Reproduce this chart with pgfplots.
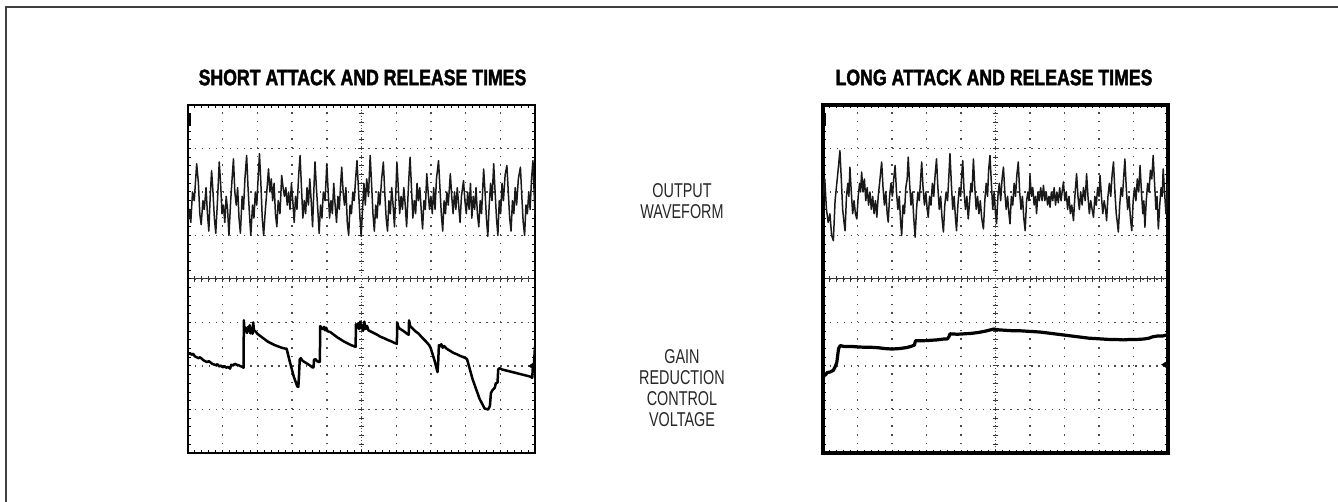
\documentclass[border=0pt]{standalone}
\usepackage{fontspec}
\setmainfont{Liberation Sans}
\newfontfamily\titlefont[FakeStretch=0.79, FakeBold=1.8]{Liberation Sans}
\newfontfamily\labelfont[FakeStretch=0.72]{Liberation Sans}
\usepackage{pgfplots}
\pgfplotsset{compat=1.18}

% scope screen: 10 x 8 divisions, grid dotted at 1/5 division
\pgfplotsset{
  scopebox/.style={
    scale only axis, anchor=south west,
    xmin=0, xmax=10, ymin=-4, ymax=4,
    xtick={0,...,10}, ytick={-4,...,4},
    xticklabels={}, yticklabels={},
    minor x tick num=4, minor y tick num=4,
    tick align=inside, major tick length=1.6pt, minor tick length=1.6pt,
    tick style={black, line width=0.5pt},
    grid=major,
    x grid style={black!70, line width=0.7pt, dash pattern=on 0.7pt off 3.65pt},
    y grid style={black!70, line width=0.7pt, dash pattern=on 0.7pt off 2.77pt},
    clip=true,
  },
  scopecenter/.style={
    scale only axis, anchor=south west,
    xmin=-5, xmax=5, ymin=-4, ymax=4,
    axis lines=center, axis line style={-},
    x axis line style={black!80, line width=0.5pt},
    y axis line style={black!70, line width=0.5pt, dash pattern=on 0.6pt off 0.9pt},
    xtick={-5,...,5}, ytick={-4,...,4},
    xticklabels={}, yticklabels={},
    minor x tick num=4, minor y tick num=4,
    tick align=center, major tick length=3pt, minor tick length=2.6pt,
    tick style={black!80, line width=0.5pt},
  },
  trace/.style={black!90, line width=0.75pt, line join=round},
  slow/.style={black, line width=1.25pt, line join=round},
}

\begin{document}
\begin{tikzpicture}
\useasboundingbox (0,0) rectangle (669pt,251pt);
\draw[line width=1pt, black!75] (2.85pt,-5pt) -- (2.85pt,247.5pt) -- (680pt,247.5pt);

% titles
\node[font=\titlefont\bfseries\fontsize{11.2}{12}\selectfont] at (181.25pt,212.25pt) {SHORT ATTACK AND RELEASE TIMES};
\node[font=\titlefont\bfseries\fontsize{11.2}{12}\selectfont] at (497pt,212.25pt) {LONG ATTACK AND RELEASE TIMES};

% middle labels
\begin{scope}[every node/.style={font=\labelfont\fontsize{10}{11}\selectfont, black!85}]
\node at (341pt,155.8pt) {OUTPUT};
\node at (341pt,145.2pt) {WAVEFORM};
\node at (341pt,72.6pt) {GAIN};
\node at (341pt,62.1pt) {REDUCTION};
\node at (341pt,51.5pt) {CONTROL};
\node at (341pt,41pt) {VOLTAGE};
\end{scope}

% ---------------- left screen ----------------
\begin{axis}[scopecenter, at={(94pt,24.5pt)}, width=173.5pt, height=174pt]
\end{axis}
\begin{axis}[scopebox, at={(94pt,24.5pt)}, width=173.5pt, height=174pt,
  axis line style={line width=1.4pt}]
\addplot[trace] coordinates {
(0,1.35)(0.04,1.6)(0.08,1.3)(0.13,2.0)(0.18,1.8)(0.25,2.65)(0.30,2.2)(0.34,1.5)(0.38,1.25)(0.43,1.8)(0.47,1.6)(0.52,2.1)(0.56,1.5)(0.60,1.1)(0.64,1.9)(0.68,2.49)(0.72,2.0)(0.76,1.4)(0.80,1.05)(0.85,1.8)(0.90,2.69)(0.94,2.2)(0.98,1.5)(1.02,1.7)(1.06,1.3)(1.10,1.9)(1.14,1.6)(1.18,1.0)(1.23,1.8)(1.27,2.3)(1.31,2.76)(1.35,2.0)(1.39,1.7)(1.43,2.1)(1.47,1.4)(1.51,1.05)(1.56,1.9)(1.60,1.6)(1.64,2.3)(1.69,2.84)(1.73,2.1)(1.77,1.5)(1.81,1.0)(1.86,1.7)(1.90,1.4)(1.94,2.0)(1.98,1.7)(2.02,2.3)(2.06,2.88)(2.10,2.2)(2.14,1.4)(2.18,1.0)(2.23,1.6)(2.27,2.0)(2.32,2.53)(2.36,2.0)(2.40,2.3)(2.44,1.8)(2.48,2.2)(2.52,1.5)(2.56,1.2)(2.60,1.8)(2.65,1.5)(2.70,2.38)(2.74,2.1)(2.78,1.9)(2.82,2.1)(2.86,1.7)(2.90,2.0)(2.94,1.6)(2.98,2.2)(3.02,1.8)(3.06,1.3)(3.10,1.9)(3.14,1.6)(3.19,2.4)(3.23,2.84)(3.27,2.1)(3.31,1.4)(3.35,1.8)(3.39,1.5)(3.43,2.1)(3.47,1.7)(3.51,2.3)(3.55,1.8)(3.59,1.2)(3.62,1.9)(3.66,2.69)(3.70,2.1)(3.74,1.6)(3.78,1.05)(3.82,1.7)(3.86,1.4)(3.90,2.0)(3.95,1.8)(4.00,2.65)(4.04,2.0)(4.08,1.4)(4.12,1.8)(4.16,1.5)(4.20,2.2)(4.24,1.7)(4.28,1.3)(4.32,1.9)(4.36,1.6)(4.40,2.2)(4.43,2.57)(4.47,2.0)(4.51,1.7)(4.55,2.1)(4.59,1.3)(4.63,1.0)(4.67,1.7)(4.71,1.5)(4.75,2.0)(4.79,1.8)(4.83,2.3)(4.87,2.72)(4.91,2.1)(4.95,1.5)(4.99,0.98)(5.03,1.6)(5.07,2.2)(5.11,1.7)(5.15,2.3)(5.20,1.9)(5.25,2.84)(5.29,2.2)(5.33,1.5)(5.37,1.1)(5.41,1.7)(5.45,1.4)(5.49,2.0)(5.53,1.7)(5.58,2.3)(5.63,2.69)(5.67,2.0)(5.71,1.4)(5.75,1.1)(5.79,1.8)(5.83,1.5)(5.87,2.1)(5.91,1.7)(5.95,1.2)(5.99,2.0)(6.02,2.69)(6.06,2.1)(6.10,1.5)(6.14,1.9)(6.18,1.6)(6.22,2.1)(6.26,1.7)(6.30,1.2)(6.34,1.9)(6.37,2.4)(6.40,2.8)(6.44,2.1)(6.48,1.4)(6.52,1.8)(6.56,1.5)(6.60,2.2)(6.64,1.8)(6.68,2.1)(6.72,1.6)(6.76,1.15)(6.80,1.8)(6.84,1.6)(6.88,2.42)(6.92,2.0)(6.96,1.6)(7.00,1.9)(7.04,1.5)(7.08,2.1)(7.12,1.6)(7.16,2.3)(7.22,2.72)(7.26,2.1)(7.30,1.5)(7.34,1.1)(7.38,1.8)(7.42,1.5)(7.46,2.0)(7.50,1.7)(7.56,2.42)(7.60,1.9)(7.64,1.5)(7.68,2.0)(7.72,1.6)(7.76,2.1)(7.80,1.7)(7.84,1.3)(7.88,1.9)(7.94,2.26)(7.98,1.8)(8.02,1.5)(8.06,2.0)(8.10,1.6)(8.14,2.2)(8.18,1.4)(8.22,1.9)(8.26,1.6)(8.30,2.1)(8.34,1.5)(8.38,1.2)(8.42,1.8)(8.46,1.5)(8.52,2.53)(8.56,2.0)(8.60,1.4)(8.64,0.98)(8.68,1.7)(8.72,2.2)(8.76,1.8)(8.81,2.65)(8.85,2.0)(8.89,1.4)(8.93,1.0)(8.97,1.8)(9.01,1.5)(9.05,2.2)(9.09,1.8)(9.14,2.4)(9.19,2.61)(9.23,2.0)(9.27,1.4)(9.31,1.1)(9.35,1.8)(9.39,1.5)(9.43,2.1)(9.47,1.7)(9.52,2.3)(9.58,2.57)(9.62,1.9)(9.66,1.3)(9.70,1.0)(9.74,1.7)(9.78,1.5)(9.82,2.0)(9.86,1.6)(9.90,2.3)(9.94,2.72)(9.97,2.1)(10,1.5)
};
\addplot[slow] coordinates {
(0,-1.74)(0.05,-1.70)(0.1,-1.74)(0.15,-1.72)(0.2,-1.78)(0.3,-1.82)(0.35,-1.80)(0.45,-1.87)(0.55,-1.91)(0.6,-1.89)(0.7,-1.95)(0.8,-1.98)(0.85,-1.96)(0.9,-2.01)(0.95,-1.99)(1.0,-2.03)(1.05,-2.00)(1.1,-2.04)(1.15,-2.02)(1.21,-2.06)(1.25,-1.97)(1.3,-1.99)(1.35,-1.95)(1.4,-1.97)(1.45,-1.98)(1.5,-2.00)(1.57,-2.02)(1.6,-2.04)
(1.61,-0.95)(1.63,-1.2)(1.66,-1.12)(1.70,-1.24)(1.73,-1.10)(1.76,-1.20)(1.78,-1.06)(1.80,-1.25)(1.83,-1.13)(1.86,-1.26)(1.88,-1.00)(1.90,-1.18)(1.95,-1.21)(2.0,-1.26)(2.1,-1.32)(2.2,-1.38)(2.3,-1.44)(2.4,-1.48)(2.5,-1.52)(2.6,-1.55)(2.7,-1.58)(2.8,-1.60)(2.84,-1.60)
(2.95,-1.95)(3.05,-2.25)(3.15,-2.47)(3.18,-2.48)(3.20,-2.20)(3.22,-1.85)(3.25,-1.82)(3.3,-1.88)(3.4,-1.93)(3.5,-1.98)(3.6,-2.04)(3.62,-2.02)
(3.63,-1.86)(3.67,-1.84)(3.72,-1.89)(3.78,-1.91)(3.80,-1.90)
(3.81,-1.08)(3.84,-1.12)(3.88,-1.15)(3.92,-1.10)(3.95,-1.18)(3.98,-1.12)(4.02,-1.20)(4.1,-1.22)(4.2,-1.28)(4.3,-1.34)(4.4,-1.39)(4.5,-1.44)(4.6,-1.48)(4.7,-1.52)(4.83,-1.56)
(4.84,-1.04)(4.87,-1.12)(4.90,-1.02)(4.93,-1.15)(4.96,-0.98)(4.99,-1.13)(5.02,-1.06)(5.05,-1.18)(5.08,-0.98)(5.12,-1.15)(5.16,-1.08)(5.20,-1.18)(5.25,-1.20)(5.35,-1.24)(5.45,-1.28)(5.55,-1.33)(5.65,-1.36)(5.75,-1.40)(5.85,-1.43)(5.95,-1.47)(6.02,-1.49)
(6.03,-1.00)(6.06,-1.10)(6.10,-1.14)(6.18,-1.18)(6.25,-1.22)(6.33,-1.27)(6.36,-1.28)
(6.37,-0.95)(6.40,-1.08)(6.45,-1.12)(6.55,-1.20)(6.65,-1.26)(6.75,-1.35)(6.85,-1.43)(6.95,-1.52)(6.99,-1.58)
(7.10,-1.86)(7.19,-2.14)(7.21,-1.92)(7.23,-1.52)(7.26,-1.55)(7.30,-1.50)(7.34,-1.58)(7.38,-1.54)(7.45,-1.60)(7.55,-1.65)(7.65,-1.70)(7.75,-1.73)(7.85,-1.77)(7.95,-1.80)(8.04,-1.84)
(8.2,-2.30)(8.4,-2.75)(8.55,-2.98)(8.65,-3.00)(8.70,-2.92)(8.73,-2.62)(8.78,-2.55)(8.84,-2.50)(8.87,-2.40)(8.92,-2.38)(8.94,-2.08)(8.98,-2.05)(9.05,-2.08)(9.15,-2.10)(9.25,-2.12)(9.35,-2.14)(9.45,-2.16)(9.55,-2.18)(9.65,-2.20)(9.75,-2.22)(9.85,-2.24)(9.92,-2.27)(9.94,-2.00)(9.97,-1.95)(10,-1.55)
};
\fill (axis cs:0,3.82) rectangle (axis cs:0.1,3.52);
\fill (axis cs:9.8,-2.0) -- (axis cs:10,-1.9) -- (axis cs:10,-2.1) -- cycle;
\end{axis}

% ---------------- right screen ----------------
\begin{axis}[scopecenter, at={(411.5pt,24.5pt)}, width=172.5pt, height=174pt]
\end{axis}
\begin{axis}[scopebox, at={(411.5pt,24.5pt)}, width=172.5pt, height=174pt,
  axis line style={line width=1.9pt}]
\addplot[trace] coordinates {
(0,1.9)(0.05,2.3)(0.10,1.6)(0.15,1.3)(0.20,1.5)(0.25,1.0)(0.30,0.88)(0.35,1.8)(0.40,2.2)(0.45,2.6)(0.49,2.95)(0.53,2.3)(0.57,1.6)(0.61,1.3)(0.64,1.11)(0.68,1.9)(0.72,2.2)(0.75,1.9)(0.78,2.57)(0.82,2.0)(0.86,1.5)(0.90,1.8)(0.94,1.5)(0.98,1.38)(1.02,1.9)(1.06,2.2)(1.09,2.0)(1.12,2.46)(1.16,2.0)(1.20,2.3)(1.24,1.8)(1.28,2.1)(1.32,1.7)(1.36,2.0)(1.40,1.6)(1.44,1.9)(1.48,1.5)(1.52,1.8)(1.56,1.42)(1.60,1.9)(1.64,2.2)(1.70,2.69)(1.74,2.1)(1.78,1.7)(1.82,2.0)(1.86,1.5)(1.89,1.31)(1.93,1.9)(1.97,2.2)(2.01,1.9)(2.05,2.3)(2.09,2.61)(2.13,2.0)(2.17,1.6)(2.21,1.9)(2.25,1.3)(2.28,1.0)(2.32,1.7)(2.36,1.5)(2.40,2.1)(2.44,2.3)(2.47,2.8)(2.51,2.2)(2.55,1.7)(2.59,2.0)(2.63,1.4)(2.67,0.96)(2.71,1.6)(2.75,2.0)(2.79,1.8)(2.83,2.3)(2.86,2.69)(2.90,2.1)(2.94,1.7)(2.98,2.0)(3.02,1.6)(3.05,1.42)(3.09,1.9)(3.13,1.7)(3.17,2.2)(3.21,1.9)(3.25,2.4)(3.29,2.76)(3.33,2.1)(3.37,1.6)(3.41,1.9)(3.45,1.4)(3.49,1.08)(3.53,1.7)(3.57,2.0)(3.61,1.8)(3.65,2.4)(3.68,2.88)(3.72,2.2)(3.76,1.6)(3.80,1.9)(3.84,1.4)(3.87,1.11)(3.91,1.7)(3.95,2.1)(3.99,1.9)(4.02,2.4)(4.05,2.72)(4.09,2.0)(4.13,1.6)(4.17,1.9)(4.21,1.38)(4.25,1.8)(4.29,2.2)(4.32,2.0)(4.36,2.76)(4.40,2.1)(4.44,1.6)(4.48,1.9)(4.52,1.5)(4.56,1.8)(4.60,1.4)(4.65,1.15)(4.69,1.8)(4.73,2.2)(4.77,1.9)(4.80,2.5)(4.84,2.84)(4.88,2.2)(4.92,1.6)(4.96,2.0)(5.00,1.5)(5.03,1.27)(5.07,1.9)(5.11,2.2)(5.15,1.8)(5.19,2.3)(5.23,2.57)(5.27,2.0)(5.31,1.6)(5.35,1.9)(5.39,1.5)(5.42,1.27)(5.46,1.9)(5.50,1.7)(5.54,2.2)(5.58,1.9)(5.62,2.4)(5.66,2.69)(5.70,2.0)(5.74,1.6)(5.78,1.9)(5.82,1.4)(5.86,1.11)(5.90,1.8)(5.94,2.0)(5.97,1.8)(6.00,2.38)(6.04,1.9)(6.08,2.1)(6.12,1.7)(6.16,1.9)(6.19,1.5)(6.23,2.0)(6.27,1.8)(6.31,2.1)(6.35,1.8)(6.39,2.15)(6.43,1.8)(6.47,2.0)(6.51,1.7)(6.55,1.9)(6.58,1.65)(6.62,2.0)(6.66,1.8)(6.70,2.1)(6.74,1.7)(6.78,2.0)(6.82,1.75)(6.86,2.1)(6.90,1.8)(6.93,2.0)(6.97,2.23)(7.01,1.8)(7.05,2.0)(7.09,1.6)(7.13,1.9)(7.17,1.5)(7.21,1.7)(7.26,1.34)(7.30,1.9)(7.35,2.42)(7.39,1.9)(7.43,1.6)(7.47,2.0)(7.51,1.7)(7.55,2.1)(7.60,1.8)(7.64,2.42)(7.68,1.9)(7.72,1.5)(7.76,1.8)(7.80,1.6)(7.84,1.42)(7.88,1.9)(7.92,1.7)(7.96,2.1)(8.00,1.9)(8.03,2.38)(8.07,1.9)(8.11,1.5)(8.15,1.8)(8.19,1.6)(8.22,1.34)(8.26,1.9)(8.30,2.2)(8.34,1.9)(8.38,2.4)(8.42,2.69)(8.46,2.0)(8.50,1.5)(8.53,1.3)(8.56,1.08)(8.60,1.7)(8.64,2.1)(8.68,1.9)(8.72,2.4)(8.75,2.76)(8.79,2.1)(8.83,1.6)(8.87,1.9)(8.91,1.4)(8.95,1.11)(8.99,1.8)(9.03,2.1)(9.07,1.8)(9.11,2.3)(9.15,2.0)(9.19,2.61)(9.23,2.0)(9.27,1.5)(9.30,1.8)(9.33,1.19)(9.37,1.8)(9.41,2.2)(9.45,2.0)(9.49,2.5)(9.53,2.3)(9.57,2.84)(9.61,2.2)(9.65,1.6)(9.68,1.9)(9.72,1.15)(9.76,1.7)(9.80,2.1)(9.83,1.9)(9.86,2.53)(9.90,2.0)(9.94,1.5)(9.97,1.8)(10,2.2)
};
\addplot[slow, line width=1.6pt] coordinates {
(0,-2.3)(0.03,-2.22)(0.08,-2.2)(0.12,-2.15)(0.2,-2.14)(0.3,-2.10)(0.35,-2.02)(0.4,-1.92)(0.45,-1.6)(0.5,-1.53)(0.6,-1.55)(0.8,-1.55)(1.0,-1.56)(1.2,-1.57)(1.4,-1.57)(1.6,-1.58)(1.8,-1.60)(2.0,-1.61)(2.2,-1.60)(2.4,-1.58)(2.55,-1.55)(2.65,-1.52)(2.68,-1.42)(2.9,-1.42)(3.1,-1.41)(3.3,-1.40)(3.5,-1.38)(3.60,-1.38)(3.65,-1.33)(3.68,-1.26)(3.9,-1.27)(4.1,-1.26)(4.3,-1.25)(4.5,-1.23)(4.7,-1.20)(4.85,-1.17)(4.95,-1.15)(5.1,-1.17)(5.3,-1.18)(5.5,-1.19)(5.7,-1.19)(5.9,-1.20)(6.1,-1.21)(6.3,-1.22)(6.5,-1.24)(6.7,-1.26)(6.9,-1.28)(7.1,-1.30)(7.3,-1.32)(7.5,-1.34)(7.7,-1.36)(7.9,-1.37)(8.1,-1.38)(8.3,-1.39)(8.5,-1.39)(8.7,-1.40)(8.9,-1.39)(9.1,-1.39)(9.3,-1.38)(9.45,-1.36)(9.55,-1.33)(9.7,-1.31)(9.85,-1.31)(10,-1.28)
};
\fill (axis cs:0,3.82) rectangle (axis cs:0.1,3.52);
\fill (axis cs:9.8,-1.97) -- (axis cs:10,-1.87) -- (axis cs:10,-2.07) -- cycle;
\end{axis}
\end{tikzpicture}
\end{document}
